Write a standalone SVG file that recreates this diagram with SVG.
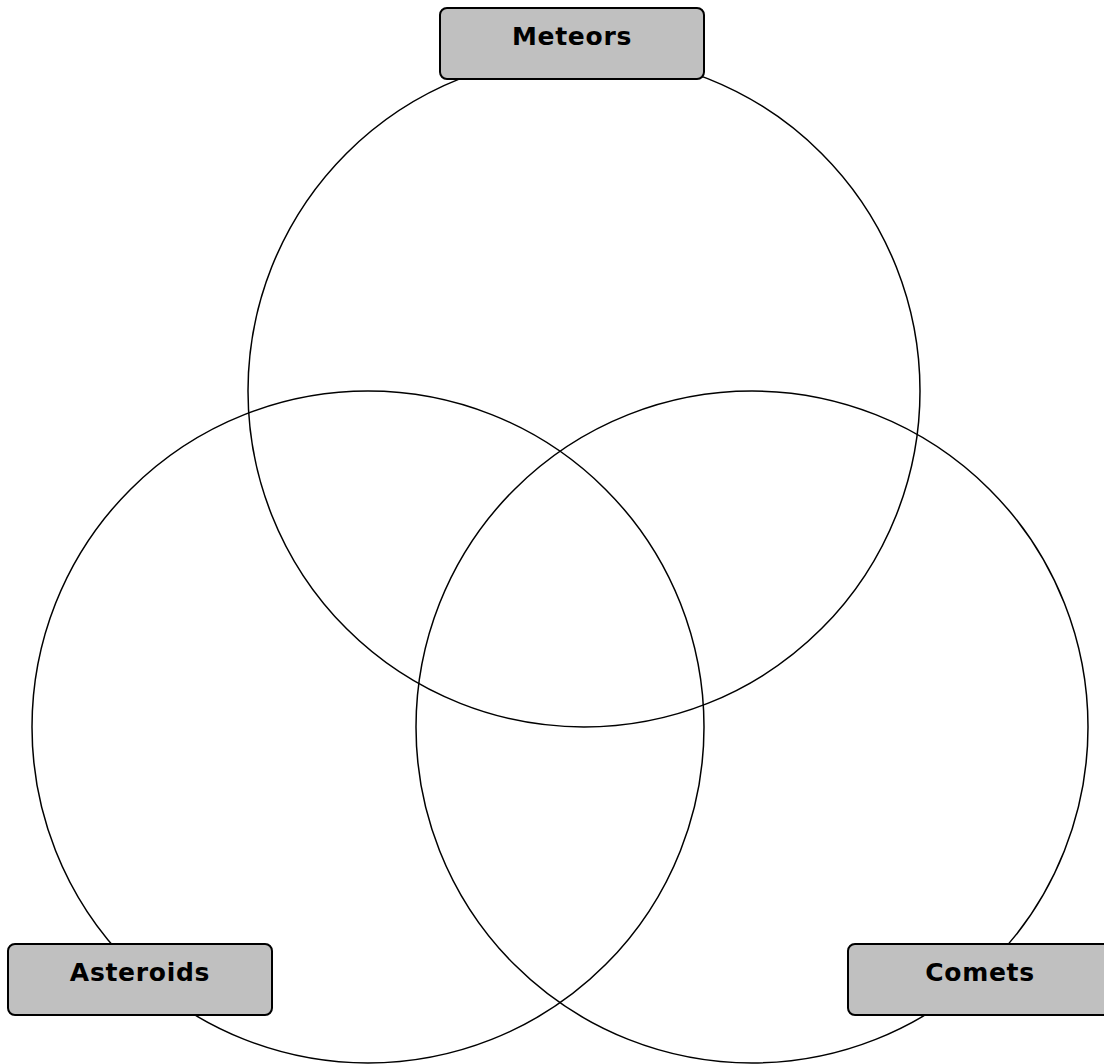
<svg xmlns="http://www.w3.org/2000/svg" width="1104" height="1064" viewBox="0 0 1104 1064">
<style>
.c{fill:none;stroke:#000;stroke-width:1.5}
.b{fill:#c0c0c0;stroke:#000;stroke-width:2}
.t{font-family:"DejaVu Sans",Verdana,sans-serif;font-weight:bold;font-size:25px;letter-spacing:0.7px;text-anchor:middle;fill:#000}
</style>
<rect width="1104" height="1064" fill="#fff"/>
<g id="circles">
<circle id="c-meteors" class="c" cx="584" cy="391" r="336"/>
<circle id="c-asteroids" class="c" cx="368" cy="727" r="336"/>
<circle id="c-comets" class="c" cx="752" cy="727" r="336"/>
</g>
<g id="meteors">
<rect class="b" x="440" y="8" width="264" height="71" rx="7"/>
<text class="t" x="572" y="45">Meteors</text>
</g>
<g id="asteroids">
<rect class="b" x="8" y="944" width="264" height="71" rx="7"/>
<text class="t" x="140" y="981">Asteroids</text>
</g>
<g id="comets">
<rect class="b" x="848" y="944" width="264" height="71" rx="7"/>
<text class="t" x="980" y="981">Comets</text>
</g>
</svg>
